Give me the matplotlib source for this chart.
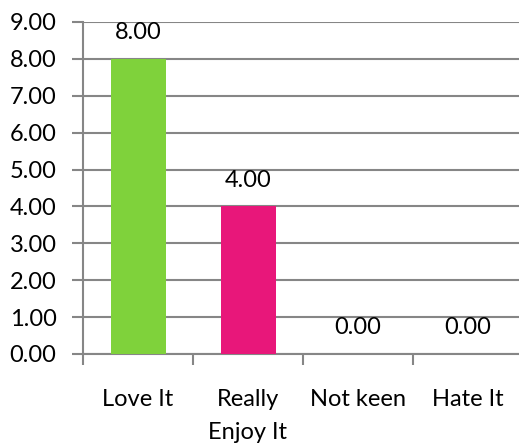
import matplotlib.pyplot as plt

categories = ["Love It", "Really\nEnjoy It", "Not keen", "Hate It"]
values = [8.00, 4.00, 0.00, 0.00]
colors = ["#7fd23b", "#e8177a", "#4f81bd", "#c0504d"]
y_ticks = [0, 1, 2, 3, 4, 5, 6, 7, 8, 9]

plt.rcParams['font.family'] = ['Lato', 'DejaVu Sans']
FS = 17

W, H = 519, 443
fig = plt.figure(figsize=(W / 100, H / 100), dpi=100)
# axes spans from the y axis line to just past the right edge
left, right, top, bottom = 83, 523, 22, 354
ax = fig.add_axes([left / W, 1 - bottom / H, (right - left) / W, (bottom - top) / H])

x = range(len(categories))
bars = ax.bar(x, values, width=0.5, color=colors, zorder=3)

for xi, v in zip(x, values):
    ax.annotate(f"{v:.2f}", (xi, v), xytext=(0, 19), textcoords="offset points",
                ha="center", va="center", fontsize=FS, color="black")

ax.set_xlim(-0.5, len(categories) - 0.5)
ax.set_ylim(0, 9)
ax.set_yticks(y_ticks)
ax.set_yticklabels([f"{t:.2f}" for t in y_ticks], fontsize=FS)

# category labels sit between boundary ticks
ax.set_xticks([i - 0.5 for i in range(len(categories) + 1)])
ax.set_xticklabels([])
ax.set_xticks(list(x), minor=True)
ax.set_xticklabels(categories, minor=True, fontsize=FS, linespacing=1.7)
ax.tick_params(axis="x", which="minor", length=0, pad=25)
ax.tick_params(axis="x", which="major", length=8, width=1.5, color="#868686", direction="out")
ax.tick_params(axis="y", length=8, width=1.5, color="#868686", direction="out", pad=11)

ax.yaxis.grid(True, color="#868686", linewidth=1.5, zorder=0)
for s in ["top", "right"]:
    ax.spines[s].set_visible(False)
for s in ["left", "bottom"]:
    ax.spines[s].set_color("#868686")
    ax.spines[s].set_linewidth(1.5)

fig.savefig("out.png", dpi=100)
